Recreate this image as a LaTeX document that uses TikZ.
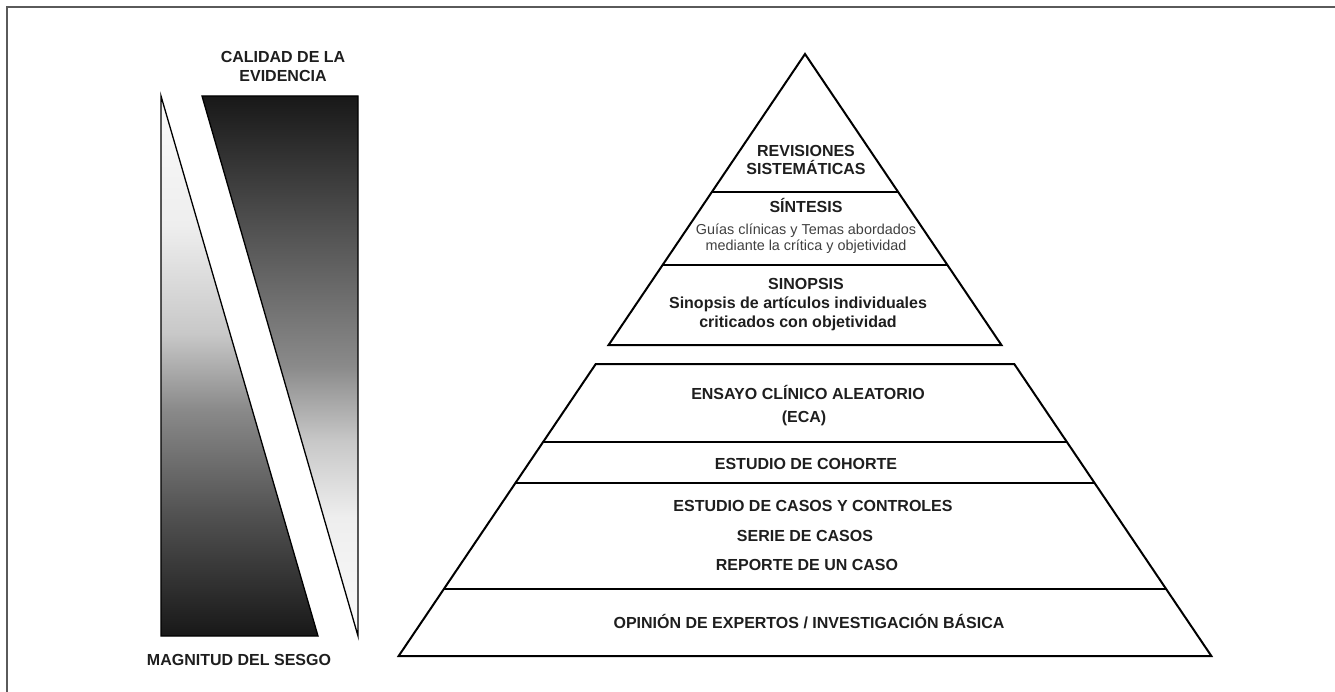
\documentclass[tikz,border=0pt]{standalone}
\usepackage{fontspec}
\setmainfont{Liberation Sans}
\usepackage{tikz}

\definecolor{gris1}{RGB}{24,24,24}
\definecolor{gris2}{RGB}{80,80,80}
\definecolor{gris3}{RGB}{138,138,138}
\definecolor{gris4}{RGB}{200,200,200}
\definecolor{gris5}{RGB}{238,238,238}
\definecolor{gris6}{RGB}{250,250,250}
\definecolor{borde}{RGB}{90,90,90}
\definecolor{texto}{RGB}{30,30,30}

% sombreados de las dos cuñas
\pgfdeclareverticalshading{sesgo}{100bp}{color(0bp)=(gris1); color(25bp)=(gris1); color(36bp)=(gris2); color(46bp)=(gris3); color(53bp)=(gris4); color(63bp)=(gris5); color(75bp)=(gris6); color(100bp)=(gris6)}
\pgfdeclareverticalshading{calidad}{100bp}{color(0bp)=(gris6); color(25bp)=(gris6); color(36bp)=(gris5); color(43bp)=(gris4); color(50bp)=(gris3); color(63bp)=(gris2); color(75bp)=(gris1); color(100bp)=(gris1)}

\begin{document}
\begin{tikzpicture}[x=1pt,y=-1pt,
  etiqueta/.style={anchor=base,inner sep=0pt,text=texto,font=\fontsize{16}{19}\selectfont\bfseries},
  nota/.style={anchor=base,inner sep=0pt,text=texto!85,font=\fontsize{14.4}{16}\selectfont},
  piramide/.style={line width=2pt,line join=miter}]
  \useasboundingbox (0,0) rectangle (1335,692);
  \draw[borde,line width=2pt] (1335,7) -- (7,7) -- (7,692);

  % cuñas
  \shadedraw[shading=sesgo,line width=1.3pt] (161,96) -- (161,636) -- (318,636) -- cycle;
  \shadedraw[shading=calidad,line width=1.3pt] (202,96) -- (358,96) -- (358,636) -- cycle;
  \node[etiqueta] (calidad1) at (283,62.7) {CALIDAD DE LA};
  \node[etiqueta] (calidad2) at (283,81.7) {EVIDENCIA};
  \node[etiqueta] (sesgo) at (239,665) {MAGNITUD DEL SESGO};

  % piramide
  \draw[piramide] (805,54) -- (1001.4,345) -- (608.6,345) -- cycle;
  \draw[piramide] (595.75,364) -- (1014.25,364) -- (1211.35,656) -- (398.65,656) -- cycle;
  \foreach \y in {192,265,442,483,589}
    \draw[piramide] ({805-0.675*(\y-54)},\y) -- ({805+0.675*(\y-54)},\y);

  \node[etiqueta] (revisiones1) at (806,156.5) {REVISIONES};
  \node[etiqueta] (revisiones2) at (806,175) {SISTEMÁTICAS};
  \node[etiqueta] (sintesis) at (806,213) {SÍNTESIS};
  \node[nota] (guias1) at (806,235) {Guías clínicas y Temas abordados};
  \node[nota] (guias2) at (806,250.7) {mediante la crítica y objetividad};
  \node[etiqueta] (sinopsis) at (806,289.3) {SINOPSIS};
  \node[etiqueta] (sinopsis1) at (798,308.3) {Sinopsis de artículos individuales};
  \node[etiqueta] (sinopsis2) at (798,327.7) {criticados con objetividad};
  \node[etiqueta] (eca1) at (808,399) {ENSAYO CLÍNICO ALEATORIO};
  \node[etiqueta] (eca2) at (804,422.5) {(ECA)};
  \node[etiqueta] (cohorte) at (806,469.3) {ESTUDIO DE COHORTE};
  \node[etiqueta] (casos) at (813,511.7) {ESTUDIO DE CASOS Y CONTROLES};
  \node[etiqueta] (serie) at (805,541) {SERIE DE CASOS};
  \node[etiqueta] (reporte) at (807,570) {REPORTE DE UN CASO};
  \node[etiqueta] (opinion) at (809,628.3) {OPINIÓN DE EXPERTOS / INVESTIGACIÓN BÁSICA};
\end{tikzpicture}
\end{document}
